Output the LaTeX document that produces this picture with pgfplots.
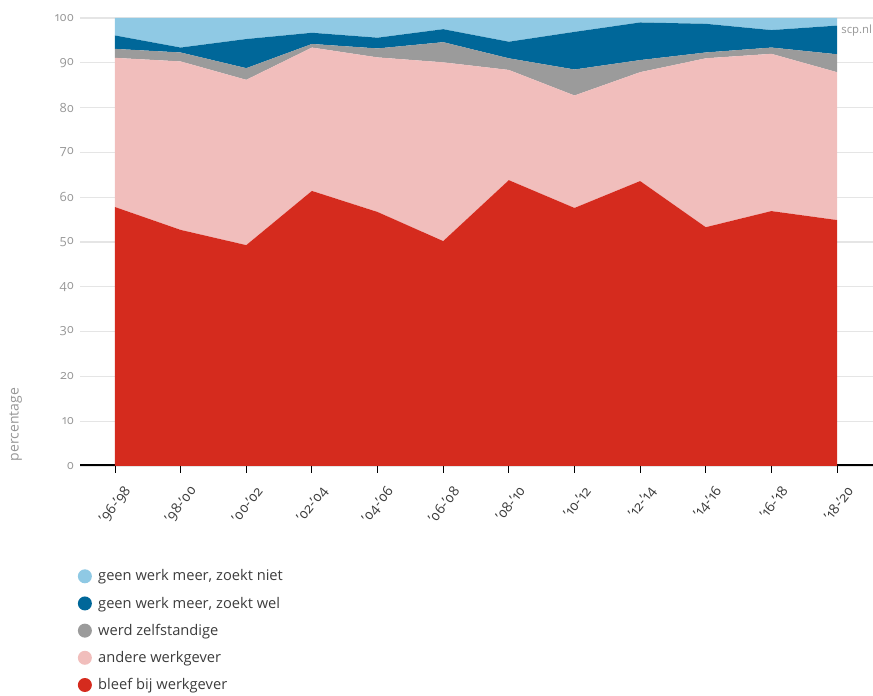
\documentclass[border=0pt]{standalone}
\usepackage{fontspec}
\setmainfont{Open Sans}[Numbers=OldStyle]
\usepackage{pgfplots}
\usepackage{pgfplotstable}
\pgfplotsset{compat=1.18}

\definecolor{niet}{RGB}{143,201,228}
\definecolor{wel}{RGB}{0,103,153}
\definecolor{zelf}{RGB}{155,155,155}
\definecolor{ander}{RGB}{241,190,188}
\definecolor{bleef}{RGB}{213,43,30}
\definecolor{lbl}{RGB}{150,150,150}
\definecolor{txt}{RGB}{60,60,60}

% percentages per periode
\pgfplotstableread{
x  bleef ander zelf wel niet
0  57.8  33.3  2.0  3.0  3.9
1  52.7  37.6  2.0  1.1  6.6
2  49.3  36.9  2.6  6.5  4.7
3  61.4  32.0  0.8  2.5  3.3
4  56.7  34.5  2.0  2.4  4.4
5  50.2  39.9  4.5  2.9  2.5
6  63.8  24.6  2.6  3.7  5.3
7  57.6  25.1  5.8  8.4  3.1
8  63.6  24.3  2.7  8.4  1.0
9  53.3  37.7  1.3  6.4  1.3
10 56.9  35.1  1.4  3.9  2.7
11 54.9  33.0  4.0  6.4  1.7
}\data

\begin{document}
\begin{tikzpicture}
\begin{axis}[
    at={(60pt,171.75pt)}, anchor=south west,
    scale only axis,
    width=594.75pt, height=336pt,
    xmin=-0.533, xmax=11.548,
    ymin=0, ymax=100,
    stack plots=y,
    axis line style={draw=none},
    xtick={0,...,11},
    xticklabels={{'96-'98},{'98-'00},{'00-'02},{'02-'04},{'04-'06},{'06-'08},{'08-'10},{'10-'12},{'12-'14},{'14-'16},{'16-'18},{'18-'20}},
    xtick pos=bottom,
    xtick align=outside,
    major tick length=5pt,
    xtick style={black, line width=0.7pt},
    ytick={0,10,...,100},
    ytick style={draw=none},
    ymajorgrids,
    grid style={draw=black!10, line width=0.8pt},
    tick label style={font=\fontsize{9.5}{11}\selectfont, text=lbl},
    /pgf/number format/assume math mode=true,
    yticklabel style={xshift=-1pt},
    xticklabel style={font=\fontsize{10.5}{12}\selectfont, text=txt, xshift=12pt, yshift=-9pt, rotate=52, anchor=east},
    ylabel={percentage},
    ylabel style={font=\fontsize{10.5}{12}\selectfont, text=lbl, at={(axis description cs:-0.081,0)}, anchor=west},
    legend style={draw=none, fill=none, inner sep=0pt, anchor=north west,
        at={(axis description cs:-0.003,-0.225)},
        font=\fontsize{11}{13}\selectfont, text=txt, row sep=6.5pt},
    legend cell align=left,
    reverse legend,
    legend image code/.code={\fill[#1] (2pt,0pt) circle (5.25pt); \path (10pt,0pt);},
]
\addplot[fill=bleef, draw=none] table[x=x, y=bleef] {\data} \closedcycle;
\addlegendentry{bleef bij werkgever}
\addplot[fill=ander, draw=none] table[x=x, y=ander] {\data} \closedcycle;
\addlegendentry{andere werkgever}
\addplot[fill=zelf, draw=none] table[x=x, y=zelf] {\data} \closedcycle;
\addlegendentry{werd zelfstandige}
\addplot[fill=wel, draw=none] table[x=x, y=wel] {\data} \closedcycle;
\addlegendentry{geen werk meer, zoekt wel}
\addplot[fill=niet, draw=none] table[x=x, y=niet] {\data} \closedcycle;
\addlegendentry{geen werk meer, zoekt niet}
\draw[black, line width=2.4pt] (axis description cs:0,0) -- (axis description cs:1,0);
\node[anchor=east, inner sep=0pt, font=\fontsize{8.5}{10}\selectfont, text=lbl] at (axis description cs:0.999,0.973) {scp.nl};
\end{axis}
\pgfresetboundingbox
\path[use as bounding box] (0,0) rectangle (654.75pt,521.25pt);
\end{tikzpicture}
\end{document}
